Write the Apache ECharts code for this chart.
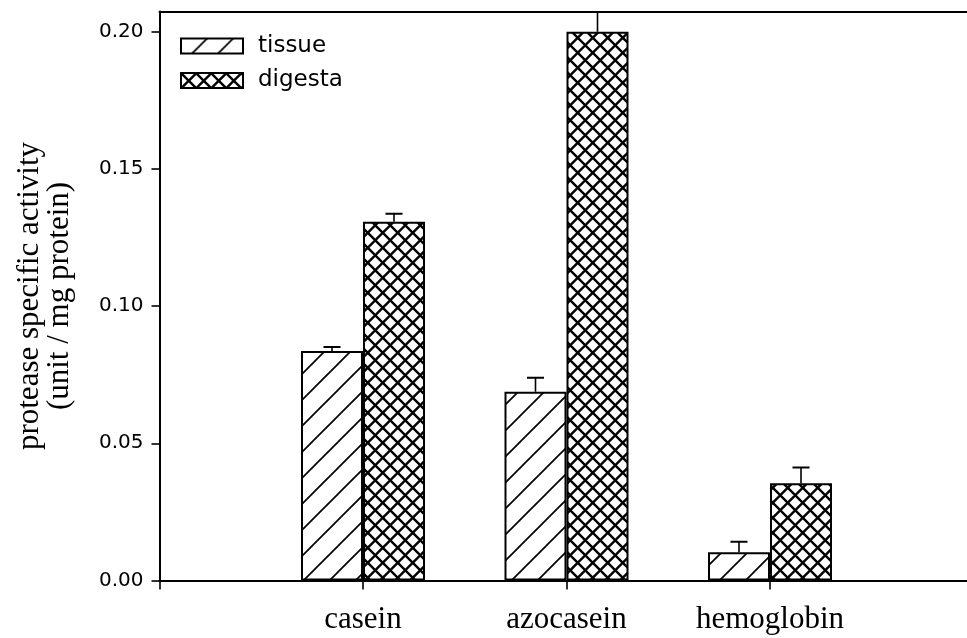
<!DOCTYPE html>
<html>
<head>
<meta charset="utf-8">
<script src="https://cdn.jsdelivr.net/npm/echarts@6/dist/echarts.min.js"></script>
<style>html,body{margin:0;padding:0;background:#fff;}#c{width:967px;height:638px;}</style>
</head>
<body>
<div id="c"></div>
<script>
// ---- data ----
const categories = ['', 'casein', 'azocasein', 'hemoglobin', ''];
const seriesNames = ['tissue', 'digesta'];
const tissueValues = [null, 0.0836, 0.0688, 0.0103, null];
const tissueErrTop = [null, 0.0851, 0.0739, 0.0141, null];
const digestaValues = [null, 0.1307, 0.1999, 0.0354, null];
const digestaErrTop = [null, 0.1336, 0.215, 0.0412, null];
const yTickValues = [0, 0.05, 0.10, 0.15, 0.20];

// ---- hatch patterns ----
function makeHatch(size, lineW, dirs) {
  const cv = document.createElement('canvas');
  cv.width = size; cv.height = size;
  const ctx = cv.getContext('2d');
  ctx.fillStyle = '#fff';
  ctx.fillRect(0, 0, size, size);
  ctx.strokeStyle = '#000';
  ctx.lineWidth = lineW;
  ctx.lineCap = 'square';
  for (const d of dirs) {
    for (let k = -1; k <= 1; k++) {
      ctx.beginPath();
      if (d === 'up') {
        const c = size + k * size;
        ctx.moveTo(-size, c + size);
        ctx.lineTo(c + size, -size);
      } else {
        const c = k * size;
        ctx.moveTo(-size, -size - c);
        ctx.lineTo(2 * size, 2 * size - c);
      }
      ctx.stroke();
    }
  }
  return cv;
}
const tissuePattern = { image: makeHatch(26, 1.7, ['up']), repeat: 'repeat' };
const digestaPattern = { image: makeHatch(15.5, 2.4, ['up', 'down']), repeat: 'repeat' };

const BAR_W = 62;

function errorRender(sign) {
  return function (params, api) {
    const x = api.value(0);
    const lo = api.value(1);
    const hi = api.value(2);
    if (isNaN(lo) || isNaN(hi)) return;
    const pLo = api.coord([x, lo]);
    const pHi = api.coord([x, hi]);
    const cx = pLo[0] + sign * BAR_W / 2;
    const half = 8.5;
    return {
      type: 'group',
      children: [
        { type: 'line', shape: { x1: cx, y1: pLo[1], x2: cx, y2: pHi[1] },
          style: { stroke: '#000', lineWidth: 1.6 } },
        { type: 'line', shape: { x1: cx - half, y1: pHi[1], x2: cx + half, y2: pHi[1] },
          style: { stroke: '#000', lineWidth: 2 } }
      ]
    };
  };
}

const chart = echarts.init(document.getElementById('c'), null, { renderer: 'canvas' });
chart.setOption({
  animation: false,
  backgroundColor: '#fff',
  grid: { left: 159.5, top: 11.5, bottom: 57.5, right: -6.5, containLabel: false, outerBoundsMode: 'none' },
  legend: {
    left: 180, top: 34.5, orient: 'vertical', padding: 0,
    itemWidth: 62, itemHeight: 15, itemGap: 11.5,
    icon: 'rect',
    data: seriesNames,
    textStyle: { fontFamily: 'DejaVu Sans', fontSize: 23, color: '#000', padding: [0, 0, 0, 10] }
  },
  xAxis: [{
    type: 'category', data: categories, boundaryGap: false,
    axisLine: { show: true, lineStyle: { color: '#000', width: 2 } },
    axisTick: { show: true, length: 9, inside: false, lineStyle: { color: '#000', width: 1.6 } },
    axisLabel: { fontFamily: 'Liberation Serif', fontSize: 31, color: '#000', margin: 24 },
    splitLine: { show: false }
  }, {
    type: 'category', data: categories, boundaryGap: false, position: 'top',
    axisLine: { show: true, lineStyle: { color: '#000', width: 2 } },
    axisTick: { show: false }, axisLabel: { show: false }, splitLine: { show: false }
  }],
  yAxis: {
    type: 'value', min: 0, max: 0.2073,
    name: 'protease specific activity\n(unit / mg protein)',
    nameLocation: 'middle', nameRotate: 90, nameGap: 85,
    nameTextStyle: { fontFamily: 'Liberation Serif', fontSize: 31, lineHeight: 30, color: '#000' },
    axisLine: { show: true, lineStyle: { color: '#000', width: 2 } },
    axisTick: { show: true, length: 8, inside: false, customValues: yTickValues, lineStyle: { color: '#000', width: 1.6 } },
    axisLabel: { customValues: yTickValues, fontFamily: 'DejaVu Sans', fontSize: 20, color: '#000', margin: 16,
      formatter: v => v.toFixed(2) },
    splitLine: { show: false }
  },
  series: [
    { name: 'tissue', type: 'bar', data: tissueValues, barWidth: BAR_W, barGap: '0%',
      itemStyle: { color: tissuePattern, borderColor: '#000', borderWidth: 2 } },
    { name: 'digesta', type: 'bar', data: digestaValues, barWidth: BAR_W, barGap: '0%',
      itemStyle: { color: digestaPattern, borderColor: '#000', borderWidth: 2 } },
    { type: 'custom', clip: true, renderItem: errorRender(-1), z: 5,
      data: categories.map((c, i) => [i, tissueValues[i] == null ? NaN : tissueValues[i], tissueErrTop[i] == null ? NaN : tissueErrTop[i]]),
      encode: { x: 0, y: [1, 2] } },
    { type: 'custom', clip: true, renderItem: errorRender(1), z: 5,
      data: categories.map((c, i) => [i, digestaValues[i] == null ? NaN : digestaValues[i], digestaErrTop[i] == null ? NaN : digestaErrTop[i]]),
      encode: { x: 0, y: [1, 2] } }
  ]
});
</script>
</body>
</html>
